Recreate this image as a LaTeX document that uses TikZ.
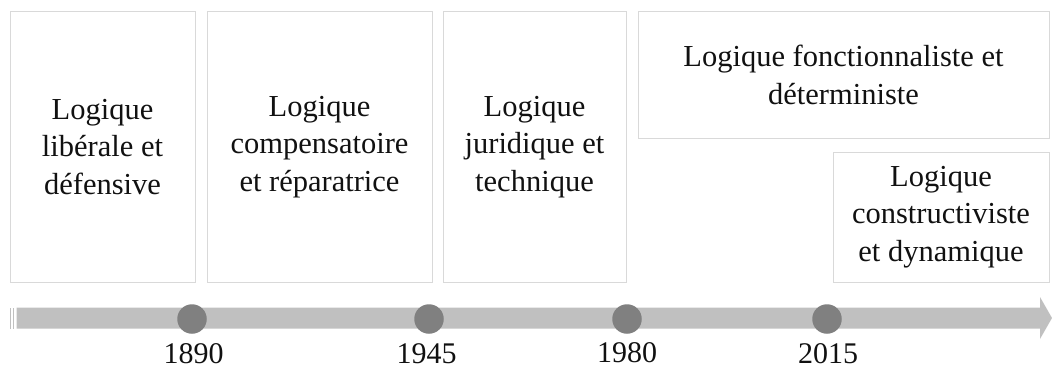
\documentclass[tikz,border=0pt]{standalone}
\usepackage{fontspec}
\setmainfont{Liberation Serif}
\definecolor{boxline}{HTML}{D9D9D9}
\definecolor{band}{HTML}{C0C0C0}
\definecolor{dot}{HTML}{808080}
\definecolor{ink}{HTML}{111111}
\tikzset{
  logicbox/.style={draw=boxline, line width=1pt, fill=white, align=center, inner sep=0pt,
    text=ink, font=\fontsize{30.5}{37.5}\selectfont},
  datedot/.style={circle, fill=dot, draw=none, minimum size=29.5pt, inner sep=0pt},
  yearlabel/.style={text=ink, font=\fontsize{30}{32}\selectfont, inner sep=0pt},
}
\begin{document}
\begin{tikzpicture}[x=1pt,y=-1pt]
\useasboundingbox (0,0) rectangle (1052,369);
% boxes
\node[logicbox, minimum width=185pt, minimum height=270pt] (b1) at (102.5,147) {Logique\\libérale et\\défensive};
\node[logicbox, minimum width=225pt, minimum height=270pt] (b2) at (319.5,147) {Logique\\compensatoire\\et réparatrice};
\node[logicbox, minimum width=183pt, minimum height=270pt] (b3) at (534.5,147) {Logique\\juridique et\\technique};
\node[logicbox, minimum width=411pt, minimum height=126pt] (b4) at (843.5,75) {Logique fonctionnaliste et\\déterministe};
\node[logicbox, minimum width=216pt, minimum height=130pt] (b5) at (941,217) {Logique\\constructiviste\\et dynamique};
% timeline arrow
\coordinate (tstart) at (16.5,318);
\coordinate (ttip) at (1052,318);
\fill[band] (10,307.5) rectangle (11.3,328.5);
\fill[band] (12.6,307.5) rectangle (14.2,328.5);
\fill[band] (tstart) ++(0,-10.5) -- (1040,307.5) -- (1040,297) -- (ttip) -- (1040,339) -- (1040,328.5) -- (16.5,328.5) -- cycle;
% dots and years
\node[datedot] (c1) at (192,319) {};
\node[datedot] (c2) at (429,319) {};
\node[datedot] (c3) at (627,319) {};
\node[datedot] (c4) at (827,319) {};
\node[yearlabel] (y1) at (193.5,353.5) {1890};
\node[yearlabel] (y2) at (426.5,353.5) {1945};
\node[yearlabel] (y3) at (627,353) {1980};
\node[yearlabel] (y4) at (828,353.5) {2015};
\end{tikzpicture}
\end{document}
